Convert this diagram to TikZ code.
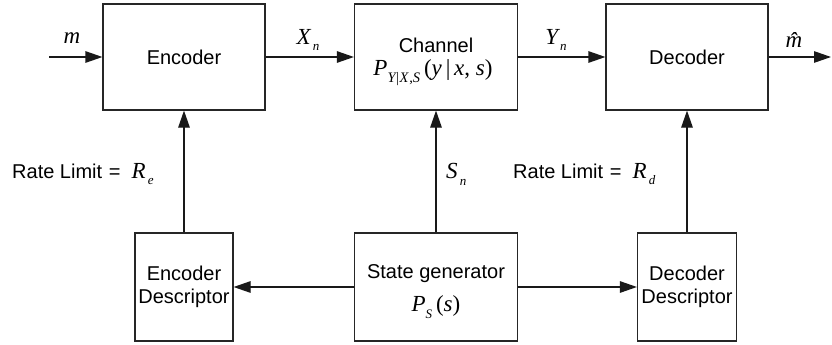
\documentclass[tikz,border=0pt]{standalone}
\usepackage{fontspec}
\setmainfont{Liberation Sans}
\newfontfamily\tms{Liberation Serif}
\usetikzlibrary{arrows.meta}

% italic serif variables and lowered subscripts
\newcommand\iv[1]{{\tms\itshape #1}}
\newcommand\sbs[1]{\raisebox{-0.30em}{\fontsize{13}{13}\selectfont\tms\itshape #1}}
\newcommand\sbb[1]{\raisebox{-0.30em}{\fontsize{14.5}{14.5}\selectfont\tms\itshape #1}}
\newcommand\up[1]{{\tms\upshape #1}}

\begin{document}
\begin{tikzpicture}[x=1pt,y=-1pt,
  every node/.style={font=\fontsize{20}{23.5}\selectfont},
  blk/.style={draw=black!85, line width=1.2pt, inner sep=0pt, align=center},
  link/.style={line width=1.2pt, draw=black!90, -{Triangle[length=17pt,width=11.5pt]}},
  lbl/.style={inner sep=0pt},
  mth/.style={inner sep=0pt, font=\fontsize{23}{26}\selectfont}]
  \useasboundingbox (0,0) rectangle (832,345);

  % top row
  \node[blk, minimum width=162pt, minimum height=106pt] (enc)  at (184,57) {Encoder};
  \node[blk, minimum width=163pt, minimum height=106pt] (chan) at (436,57) {};
  \node[lbl] (chant) at (436,45) {Channel};
  \node[mth] (chanp) at (433,73)
    {\iv{P}\sbb{Y\kern0.5pt\up{|}\kern0.5pt X\kern1pt\up{,}S}\up{\,(}\iv{y}\up{\,|\,}\iv{x}\up{, }\iv{s}\up{)}};
  \node[blk, minimum width=162pt, minimum height=106pt] (dec)  at (687,57) {Decoder};

  % bottom row
  \node[blk, minimum width=98pt,  minimum height=108pt] (encd) at (184,287) {Encoder\\Descriptor};
  \node[blk, minimum width=163pt, minimum height=108pt] (sg)   at (436,287) {};
  \node[lbl] (sgt) at (436,274) {State generator};
  \node[mth] (sgp) at (436,307) {\iv{P}\sbs{S}\up{\,(}\iv{s}\up{)}};
  \node[blk, minimum width=99pt,  minimum height=108pt] (decd) at (687,287) {Decoder\\Descriptor};

  % free ends of the message path
  \coordinate (min)  at (49,57);
  \coordinate (mout) at (831,57);

  % connectors
  \draw[link] (min) -- (enc.west);
  \draw[link] (enc.east) -- (chan.west);
  \draw[link] (chan.east) -- (dec.west);
  \draw[link] (dec.east) -- (mout);
  \draw[link] (encd.north) -- (enc.south);
  \draw[link] (sg.north) -- (chan.south);
  \draw[link] (decd.north) -- (dec.south);
  \draw[link] (sg.west) -- (encd.east);
  \draw[link] (sg.east) -- (decd.west);

  % labels
  \node[mth] (lm)  at (72,38)  {\iv{m}};
  \node[mth] (lx)  at (308,40) {\iv{X}\sbs{\,n}};
  \node[mth] (ly)  at (556,40) {\iv{Y}\sbs{\,n}};
  \node[mth] (lmh) at (794,40) {\iv{\^m}};
  \node[lbl, anchor=west] (lre) at (12,174) {Rate Limit{\kern1pt} =\ \ \iv{\fontsize{23}{26}\selectfont R}\sbs{\,e}};
  \node[mth, anchor=west] (ls)  at (446,174) {\iv{S}\sbs{\,n}};
  \node[lbl, anchor=west] (lrd) at (513,174) {Rate Limit{\kern1pt} =\ \ \iv{\fontsize{23}{26}\selectfont R}\sbs{\,d}};
\end{tikzpicture}
\end{document}
